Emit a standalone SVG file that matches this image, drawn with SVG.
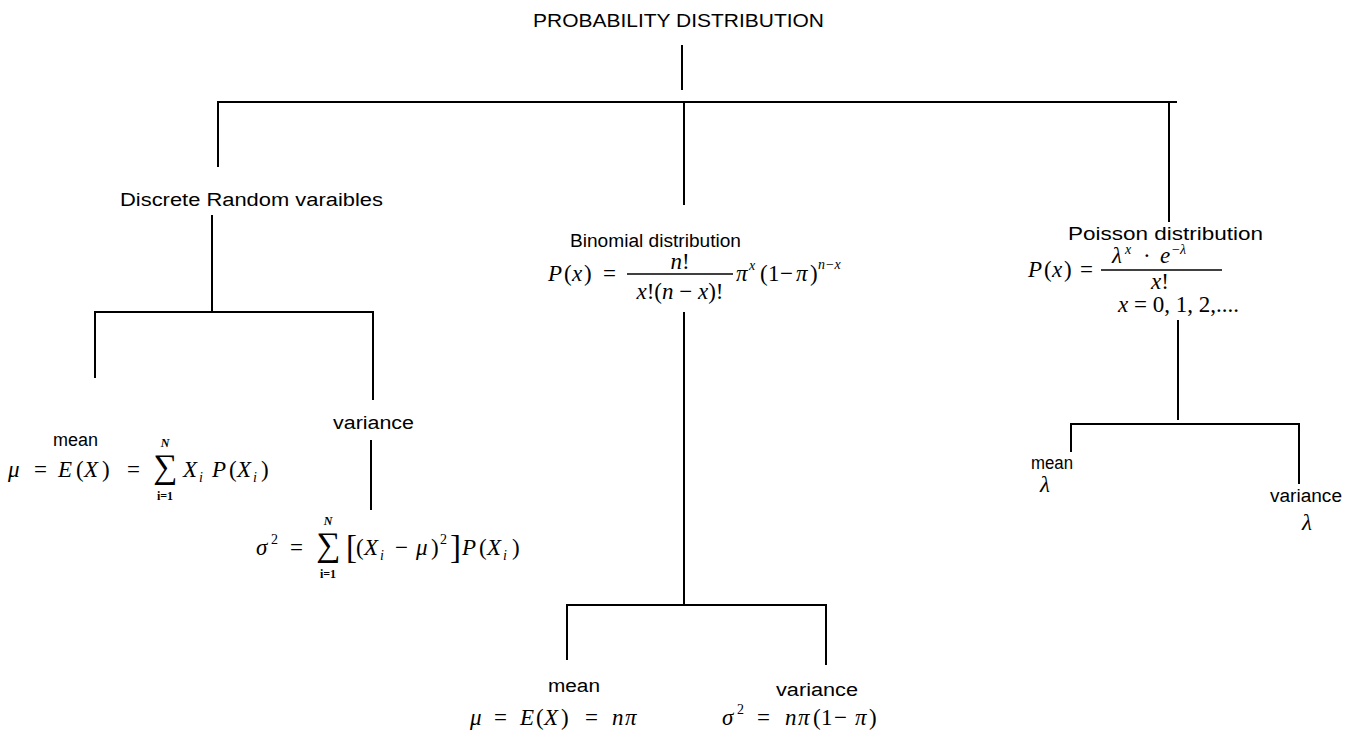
<svg xmlns="http://www.w3.org/2000/svg" width="1360" height="737" viewBox="0 0 1360 737">
<style>
.lbl{font-family:"Liberation Sans",Arial,sans-serif;font-size:18px;fill:#000}
.m{font-family:"Liberation Serif","Times New Roman",serif;font-size:23px;fill:#000}
.i{font-style:italic}
.sm{font-size:14px}
.br{font-size:33px}
.sig{font-family:"Liberation Serif","DejaVu Serif",serif;font-size:34px;fill:#000}
.lim{font-family:"Liberation Serif",serif;font-size:12px;font-weight:bold;fill:#000}
.c line{stroke:#000;stroke-width:2}
.bar{stroke:#000;stroke-width:1.5}
</style>
<rect width="1360" height="737" fill="#fff"/>
<g class="c" id="connectors">
<line x1="682" y1="45" x2="682" y2="90"/>
<line x1="217" y1="102" x2="1177" y2="102"/>
<line x1="218" y1="102" x2="218" y2="167"/>
<line x1="684" y1="102" x2="684" y2="205"/>
<line x1="1169" y1="102" x2="1169" y2="222"/>
<line x1="212" y1="215" x2="212" y2="312"/>
<line x1="94" y1="312" x2="374" y2="312"/>
<line x1="95" y1="312" x2="95" y2="378"/>
<line x1="373" y1="312" x2="373" y2="400"/>
<line x1="371" y1="440" x2="371" y2="510"/>
<line x1="684" y1="312" x2="684" y2="604"/>
<line x1="566" y1="605" x2="827" y2="605"/>
<line x1="567" y1="605" x2="567" y2="660"/>
<line x1="826" y1="605" x2="826" y2="665"/>
<line x1="1178" y1="320" x2="1178" y2="420"/>
<line x1="1070" y1="424" x2="1300" y2="424"/>
<line x1="1071" y1="424" x2="1071" y2="452"/>
<line x1="1299" y1="424" x2="1299" y2="484"/>
</g>
<g id="root"><text class="lbl" x="533" y="27" textLength="291" lengthAdjust="spacingAndGlyphs">PROBABILITY DISTRIBUTION</text></g>
<g id="discrete"><text class="lbl" x="120" y="206" textLength="263" lengthAdjust="spacingAndGlyphs">Discrete Random varaibles</text></g>
<g id="discrete-mean">
<text class="lbl" x="53" y="446" textLength="45" lengthAdjust="spacingAndGlyphs">mean</text>
<text class="m" y="477"><tspan x="8" class="i">μ</tspan><tspan x="34">=</tspan><tspan x="58" class="i">E</tspan><tspan x="76">(</tspan><tspan x="84" class="i">X</tspan><tspan x="102">)</tspan><tspan x="127">=</tspan><tspan x="183" class="i">X</tspan><tspan x="199" class="i sm" dy="5">i</tspan><tspan x="212" class="i" dy="-5">P</tspan><tspan x="229">(</tspan><tspan x="237" class="i">X</tspan><tspan x="253" class="i sm" dy="5">i</tspan><tspan x="261" dy="-5">)</tspan></text>
<text class="sig" x="165" y="478" text-anchor="middle">∑</text>
<text class="lim" x="165" y="447" text-anchor="middle" font-style="italic">N</text>
<text class="lim" x="165" y="500" text-anchor="middle">i=1</text>
</g>
<g id="discrete-variance">
<text class="lbl" x="333" y="429" textLength="81" lengthAdjust="spacingAndGlyphs">variance</text>
<text class="m" y="555"><tspan x="256" class="i">σ</tspan><tspan x="271" class="sm" dy="-11">2</tspan><tspan x="290" dy="11">=</tspan><tspan x="346" class="br" dy="3">[</tspan><tspan x="356" dy="-3">(</tspan><tspan x="364" class="i">X</tspan><tspan x="380" class="i sm" dy="5">i</tspan><tspan x="395" dy="-5">−</tspan><tspan x="416" class="i">μ</tspan><tspan x="431">)</tspan><tspan x="440" class="sm" dy="-11">2</tspan><tspan x="450" class="br" dy="14">]</tspan><tspan x="462" class="i" dy="-3">P</tspan><tspan x="479">(</tspan><tspan x="487" class="i">X</tspan><tspan x="503" class="i sm" dy="5">i</tspan><tspan x="512" dy="-5">)</tspan></text>
<text class="sig" x="328" y="556" text-anchor="middle">∑</text>
<text class="lim" x="328" y="525" text-anchor="middle" font-style="italic">N</text>
<text class="lim" x="328" y="578" text-anchor="middle">i=1</text>
</g>
<g id="binomial">
<text class="lbl" x="570" y="247" textLength="171" lengthAdjust="spacingAndGlyphs">Binomial distribution</text>
<text class="m" y="281"><tspan x="548" class="i">P</tspan><tspan x="564">(</tspan><tspan x="572" class="i">x</tspan><tspan x="584">)</tspan><tspan x="603">=</tspan></text>
<line class="bar" x1="627" y1="274" x2="733" y2="274"/>
<text class="m" x="680" y="269" text-anchor="middle"><tspan class="i">n</tspan>!</text>
<text class="m" x="680" y="299" text-anchor="middle"><tspan class="i">x</tspan>!(<tspan class="i">n</tspan> − <tspan class="i">x</tspan>)!</text>
<text class="m" y="281"><tspan x="736" class="i">π</tspan><tspan x="749" class="i sm" dy="-11">x</tspan><tspan x="760" dy="11">(</tspan><tspan x="768">1</tspan><tspan x="780">−</tspan><tspan x="796" class="i">π</tspan><tspan x="810">)</tspan><tspan x="818" class="i sm" dy="-12">n−x</tspan></text>
</g>
<g id="binomial-mean">
<text class="lbl" x="548" y="692" textLength="52" lengthAdjust="spacingAndGlyphs">mean</text>
<text class="m" y="725"><tspan x="470" class="i">μ</tspan><tspan x="494">=</tspan><tspan x="520" class="i">E</tspan><tspan x="536">(</tspan><tspan x="544" class="i">X</tspan><tspan x="561">)</tspan><tspan x="585">=</tspan><tspan x="612" class="i">n</tspan><tspan x="625" class="i">π</tspan></text>
</g>
<g id="binomial-variance">
<text class="lbl" x="776" y="696" textLength="82" lengthAdjust="spacingAndGlyphs">variance</text>
<text class="m" y="725"><tspan x="722" class="i">σ</tspan><tspan x="737" class="sm" dy="-11">2</tspan><tspan x="757" dy="11">=</tspan><tspan x="785" class="i">n</tspan><tspan x="798" class="i">π</tspan><tspan x="813">(</tspan><tspan x="821">1</tspan><tspan x="834">−</tspan><tspan x="855" class="i">π</tspan><tspan x="869">)</tspan></text>
</g>
<g id="poisson">
<text class="lbl" x="1068" y="240" textLength="195" lengthAdjust="spacingAndGlyphs">Poisson distribution</text>
<text class="m" y="277"><tspan x="1028" class="i">P</tspan><tspan x="1044">(</tspan><tspan x="1052" class="i">x</tspan><tspan x="1064">)</tspan><tspan x="1080">=</tspan></text>
<line class="bar" x1="1101" y1="270" x2="1222" y2="270"/>
<text class="m" y="263"><tspan x="1112" class="i">λ</tspan><tspan x="1125" class="i sm" dy="-9">x</tspan><tspan x="1143" dy="9">·</tspan><tspan x="1160" class="i">e</tspan><tspan x="1172" class="sm" dy="-9">−</tspan><tspan x="1180" class="i sm">λ</tspan></text>
<text class="m" x="1160" y="289" text-anchor="middle"><tspan class="i">x</tspan>!</text>
<text class="m" x="1118" y="312"><tspan class="i">x</tspan> = 0, 1, 2,....</text>
</g>
<g id="poisson-mean">
<text class="lbl" x="1031" y="469" textLength="42" lengthAdjust="spacingAndGlyphs">mean</text>
<text class="m i" x="1040" y="492">λ</text>
</g>
<g id="poisson-variance">
<text class="lbl" x="1270" y="502" textLength="72" lengthAdjust="spacingAndGlyphs">variance</text>
<text class="m i" x="1302" y="530">λ</text>
</g>
</svg>
